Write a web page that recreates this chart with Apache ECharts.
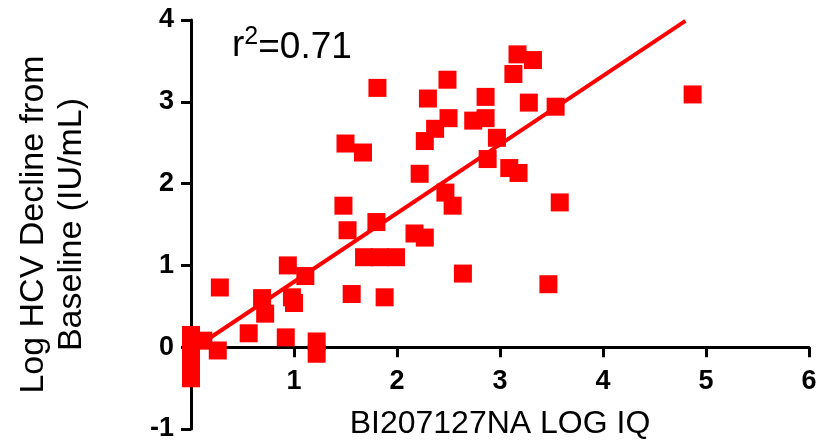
<!DOCTYPE html>
<html>
<head>
<meta charset="utf-8">
<script src="https://cdn.jsdelivr.net/npm/echarts@6/dist/echarts.min.js"></script>
<style>
  html, body { margin: 0; padding: 0; background: #fff; }
  #chart { width: 825px; height: 441px; }
</style>
</head>
<body>
<div id="chart"></div>
<script>
const xTicks = [0, 1, 2, 3, 4, 5, 6];
const yTicks = [-1, 0, 1, 2, 3, 4];

// BI207127NA log IQ vs log HCV decline
const iqValues = [
  0, 0, 0, 0, 0.12, 0.26, 0.28, 0.56, 0.69, 0.72,
  0.92, 0.94, 0.98, 1.00, 1.11, 1.22, 1.22, 1.48, 1.50, 1.52,
  1.56, 1.67, 1.68, 1.80, 1.81, 1.83, 1.88, 1.99, 2.17, 2.22,
  2.27, 2.27, 2.30, 2.37, 2.47, 2.49, 2.50, 2.54, 2.64, 2.74,
  2.86, 2.86, 2.88, 2.97, 3.09, 3.13, 3.17, 3.18, 3.28, 3.32,
  3.47, 3.54, 3.58, 4.87
];
const declineValues = [
  0.15, 0.0, -0.2, -0.38, 0.08, -0.04, 0.73, 0.17, 0.60, 0.41,
  0.12, 1.00, 0.61, 0.54, 0.87, 0.07, -0.08, 1.73, 2.49, 1.43,
  0.65, 2.38, 1.10, 1.53, 3.17, 1.10, 0.61, 1.10, 1.39, 2.12,
  1.34, 2.52, 3.04, 2.67, 1.89, 3.27, 2.80, 1.73, 0.90, 2.77,
  3.06, 2.80, 2.30, 2.56, 2.19, 3.34, 3.58, 2.13, 2.99, 3.51,
  0.77, 2.94, 1.77, 3.09
];

// regression line ends
const fitX = [0, 4.8];
const fitY = [-0.04, 3.99];
const rSquared = '0.71';

const font = '"Liberation Sans", Arial, sans-serif';
const axisTick = { length: 10, lineStyle: { color: '#000', width: 3 } };
const xRange = { type: 'value', min: xTicks[0], max: xTicks[xTicks.length - 1], interval: 1 };

const chart = echarts.init(document.getElementById('chart'));
chart.setOption({
  animation: false,
  grid: { left: 191, right: 16, top: 20, bottom: 12, containLabel: false, outerBoundsMode: 'none' },
  xAxis: [
    {
      // line + ticks crossing at y = 0
      ...xRange,
      axisLine: { onZero: true, lineStyle: { color: '#000', width: 3 } },
      axisTick: axisTick,
      splitLine: { show: false },
      axisLabel: { show: false }
    },
    {
      // labels + title, lifted up to sit under the y = 0 line
      ...xRange,
      position: 'bottom',
      offset: -82,
      name: 'BI207127NA LOG IQ',
      nameLocation: 'middle',
      nameGap: 61,
      nameTextStyle: { fontFamily: font, fontSize: 32, color: '#000' },
      axisLine: { show: false, onZero: false },
      axisTick: { show: false },
      splitLine: { show: false },
      axisLabel: {
        margin: 21,
        fontFamily: font, fontSize: 27, fontWeight: 'bold', color: '#000',
        formatter: (v) => (v === 0 ? '' : String(v))
      }
    }
  ],
  yAxis: {
    type: 'value',
    min: yTicks[0],
    max: yTicks[yTicks.length - 1],
    interval: 1,
    name: 'Log HCV Decline from\nBaseline (IU/mL)',
    nameLocation: 'middle',
    nameGap: 100,
    nameRotate: 90,
    nameTextStyle: { fontFamily: font, fontSize: 34, color: '#000', lineHeight: 38 },
    axisLine: { onZero: false, lineStyle: { color: '#000', width: 3 } },
    axisTick: axisTick,
    splitLine: { show: false },
    axisLabel: { margin: 17, fontFamily: font, fontSize: 27, fontWeight: 'bold', color: '#000' }
  },
  graphic: [{
    type: 'text',
    left: 232,
    top: 25,
    style: {
      text: 'r{sup|2}{base|=' + rSquared + '}',
      fill: '#000',
      rich: {
        sup: { fontFamily: font, fontSize: 25, verticalAlign: 'top', lineHeight: 41 },
        base: { fontFamily: font, fontSize: 37, verticalAlign: 'bottom', lineHeight: 41 }
      },
      fontFamily: font,
      fontSize: 37
    }
  }],
  series: [
    {
      type: 'scatter',
      xAxisIndex: 0,
      symbol: 'rect',
      symbolSize: 18,
      itemStyle: { color: '#ff0000', opacity: 1 },
      data: iqValues.map((x, i) => [x, declineValues[i]]),
      z: 3
    },
    {
      type: 'line',
      xAxisIndex: 0,
      symbol: 'none',
      lineStyle: { color: '#ff0000', width: 4 },
      data: fitX.map((x, i) => [x, fitY[i]]),
      z: 4
    }
  ]
});
</script>
</body>
</html>
